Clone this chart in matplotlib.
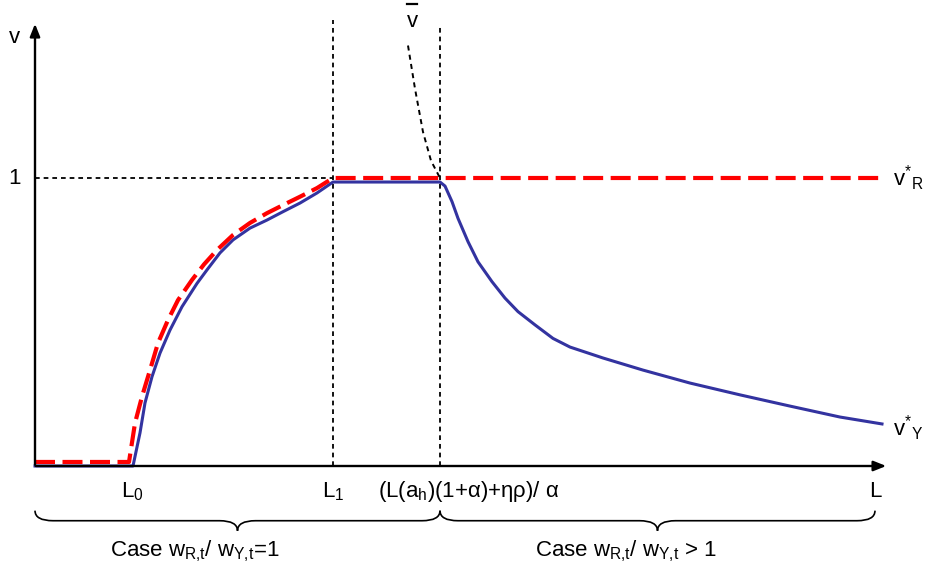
import matplotlib.pyplot as plt
from matplotlib.path import Path
from matplotlib.patches import PathPatch

plt.rcParams['font.family'] = ['Liberation Sans', 'DejaVu Sans']
plt.rcParams['mathtext.fontset'] = 'custom'
plt.rcParams['mathtext.rm'] = 'Liberation Sans'
plt.rcParams['mathtext.it'] = 'Liberation Sans'

# horizontal positions (L axis, origin at 0) and v values
L0 = 97
L1 = 298
L2 = 405
L_END = 847

red_x = [0, 94, 100, 107, 115, 123, 133, 143, 157, 169, 182, 198, 215, 232, 248, 265, 282, 298, L_END]
red_y = [0.014, 0.014, 0.149, 0.241, 0.333, 0.427, 0.507, 0.576, 0.646, 0.700, 0.750, 0.802,
         0.844, 0.878, 0.906, 0.935, 0.965, 1.0, 1.0]

blue_x = [0, 98, 105, 110, 117, 125, 135, 147, 162, 172, 185, 198, 215, 232, 248, 265, 282, 298,
          405, 410, 417, 423, 433, 443, 457, 470, 483, 500, 518, 535, 568, 608, 655, 705, 755,
          805, L_END]
blue_y = [0.0, 0.0, 0.115, 0.219, 0.310, 0.392, 0.472, 0.553, 0.634, 0.681, 0.740, 0.785, 0.826,
          0.854, 0.883, 0.913, 0.948, 0.986,
          0.986, 0.972, 0.918, 0.860, 0.779, 0.709, 0.640, 0.583, 0.536, 0.490, 0.443, 0.413,
          0.375, 0.333, 0.288, 0.247, 0.208, 0.170, 0.146]

vbar_x = [373, 380, 388, 396, 405]
vbar_y = [1.46, 1.31, 1.16, 1.06, 1.0]

fig = plt.figure(figsize=(9.25, 5.72), dpi=100)
ax = fig.add_axes([0, 0, 1, 1])
ax.set_xlim(-35, 890)
ax.set_ylim(-106 / 288, 466 / 288)
ax.axis('off')

# axes with arrows
ax.annotate('', xy=(0, 1.545), xytext=(0, -0.005),
            arrowprops=dict(arrowstyle='-|>,head_length=0.75,head_width=0.3', color='black', lw=1.7))
ax.annotate('', xy=(854, 0), xytext=(-2, 0),
            arrowprops=dict(arrowstyle='-|>,head_length=0.75,head_width=0.3', color='black', lw=1.7))

# guide lines
dash = (0, (2.6, 2.2))
ax.plot([0, L1], [1, 1], color='black', lw=1.3, ls=dash)
ax.plot([L1, L1], [0, 1.55], color='black', lw=1.3, ls=dash)
ax.plot([L2, L2], [0, 1.53], color='black', lw=1.3, ls=dash)
ax.plot(vbar_x, vbar_y, color='black', lw=1.4, ls=dash)

ax.plot(blue_x, blue_y, color='#3333a0', lw=2.2, solid_joinstyle='round')
ax.plot(red_x, red_y, color='#ff0000', lw=3.0, ls=(0, (4.8, 1.8)))

fs = 16
ax.text(-21, 1.488, 'v', fontsize=fs, ha='center', va='center')
ax.text(-20, 1.0, '1', fontsize=fs, ha='center', va='center')
ax.text(377, 1.545, 'v', fontsize=fs, ha='center', va='center')
ax.plot([372, 382], [1.605, 1.605], color='black', lw=1.6)
ax.text(858, 1.0, r'$\mathregular{v^{*}{}_{R}}$', fontsize=fs, ha='left', va='center')
ax.text(858, 0.13, r'$\mathregular{v^{*}{}_{Y}}$', fontsize=fs, ha='left', va='center')

ly = -0.09
ax.text(L0, ly, r'$\mathregular{L_0}$', fontsize=fs, ha='center', va='center')
ax.text(L1, ly, r'$\mathregular{L_1}$', fontsize=fs, ha='center', va='center')
ax.text(434, ly, r'$\mathregular{(L(a_h)(1{+}\alpha){+}\eta\rho)/\ \alpha}$', fontsize=fs,
        ha='center', va='center')
ax.text(840, ly, 'L', fontsize=fs, ha='center', va='center')


def brace(x0, x1, y, h, w=18):
    xm = (x0 + x1) / 2
    verts = [(x0, y + h), (x0, y), (x0 + w, y),
             (xm - w, y), (xm, y), (xm, y - h),
             (xm, y), (xm + w, y),
             (x1 - w, y), (x1, y), (x1, y + h)]
    codes = [Path.MOVETO, Path.CURVE3, Path.CURVE3,
             Path.LINETO, Path.CURVE3, Path.CURVE3,
             Path.CURVE3, Path.CURVE3,
             Path.LINETO, Path.CURVE3, Path.CURVE3]
    ax.add_patch(PathPatch(Path(verts, codes), fill=False, lw=1.2, color='black'))


brace(0, L2, -0.19, 0.035)
brace(L2, 840, -0.19, 0.035)

ax.text(160, -0.295, r'Case w$\mathregular{_{R{,}t}}$/ w$\mathregular{_{Y{,}t}}$=1', fontsize=fs,
        ha='center', va='center')
ax.text(591, -0.295, r'Case w$\mathregular{_{R{,}t}}$/ w$\mathregular{_{Y{,}t}}$ > 1', fontsize=fs,
        ha='center', va='center')

fig.savefig('out.png', dpi=100)
